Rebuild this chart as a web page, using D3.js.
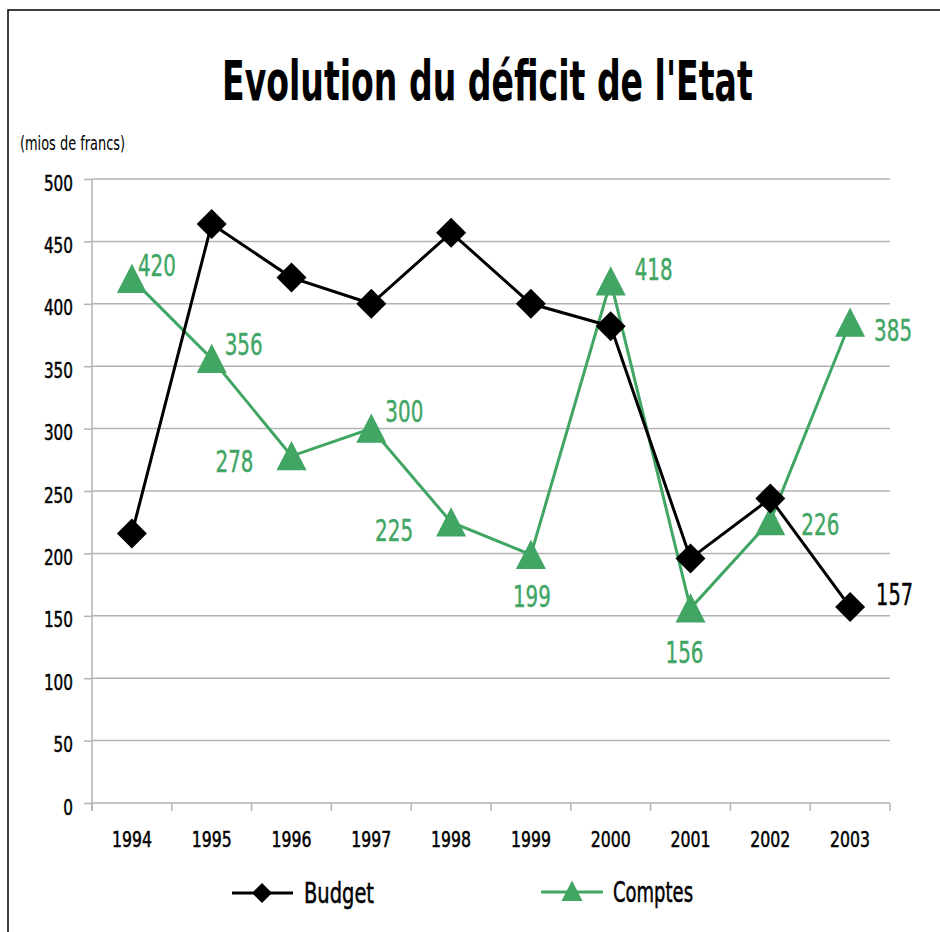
<!DOCTYPE html>
<html>
<head>
<meta charset="utf-8">
<script src="https://cdn.jsdelivr.net/npm/d3@7"></script>
<style>
  html, body { margin: 0; padding: 0; background: #fff; }
  svg { display: block; }
  text { font-family: "Liberation Sans Narrow", "DejaVu Sans", sans-serif; font-stretch: condensed; }
</style>
</head>
<body>
<svg id="chart" width="940" height="932"></svg>
<script>
// ---- data ----
const years = ["1994","1995","1996","1997","1998","1999","2000","2001","2002","2003"];
const budget = [216, 464, 421, 400, 457, 400, 382, 196, 244, 157];
const comptes = [420, 356, 278, 300, 225, 199, 418, 156, 226, 385];
const yTicks = [0, 50, 100, 150, 200, 250, 300, 350, 400, 450, 500];
const titleText = "Evolution du déficit de l'Etat";
const unitText = "(mios de francs)";
const seriesNames = ["Budget", "Comptes"];

// label placement (style config, not data)
const comptesLabelOffsets = [[6,-3],[13,-4],[-76,16],[14,-7],[-76,19],[-18,52],[24,-1],[-25,55],[31,14],[24,18]];
const budgetLabelIndex = 9;
const budgetLabelOffset = [26,-2];

const green = "#41a564";
const grid = "#b3b3b3";
const svg = d3.select("#chart");

// frame (extends beyond image on right and bottom)
svg.append("rect").attr("x", 8).attr("y", 10).attr("width", 1000).attr("height", 1000)
  .attr("fill", "none").attr("stroke", "#000").attr("stroke-width", 1.5);

// title: fit width naturally, then stretch vertically to the reference cap height
const title = svg.append("text").attr("x", 0).attr("y", 0)
  .attr("font-size", 56).attr("font-weight", "bold").text(titleText);
const natW = title.node().getComputedTextLength();
const tSize = 56 * 531 / natW;
title.attr("font-size", tSize)
  .attr("transform", `translate(222,100) scale(1,${56 / tSize})`);

svg.append("text").attr("x", 20).attr("y", 150)
  .attr("font-size", 19)
  .attr("textLength", 105).attr("lengthAdjust", "spacingAndGlyphs")
  .text(unitText);

const x = d3.scaleBand().domain(years).range([92, 890]).padding(0);
const y = d3.scaleLinear().domain([0, 500]).range([803, 179]);

// y ticks (labels + tick marks)
const yAxis = d3.axisLeft(y).tickValues(yTicks).tickSize(8).tickSizeOuter(0).tickPadding(11);
const gy = svg.append("g").attr("transform", "translate(92,0)").call(yAxis);
gy.attr("font-family", null).attr("font-size", null);
gy.select(".domain").remove();
gy.selectAll(".tick line").attr("stroke", grid).attr("stroke-width", 1.5);
gy.selectAll(".tick text").attr("font-size", 22).attr("fill", "#000").attr("dy", 11)
  .attr("stroke", "#000").attr("stroke-width", 0.5)
  .attr("textLength", d => String(d).length * 9.7).attr("lengthAdjust", "spacingAndGlyphs");

// horizontal grid
svg.append("g").selectAll("line").data(yTicks).join("line")
  .attr("x1", 92).attr("x2", 890)
  .attr("y1", d => y(d)).attr("y2", d => y(d))
  .attr("stroke", grid).attr("stroke-width", 1.5);

// y axis line
svg.append("line").attr("x1", 92).attr("x2", 92).attr("y1", 179).attr("y2", 811)
  .attr("stroke", grid).attr("stroke-width", 1.5);

// x axis ticks at band boundaries
const bounds = years.map(d => x(d)).concat([x(years[years.length-1]) + x.bandwidth()]);
svg.append("g").selectAll("line").data(bounds).join("line")
  .attr("x1", d => d).attr("x2", d => d).attr("y1", 803).attr("y2", 811)
  .attr("stroke", grid).attr("stroke-width", 1.5);

svg.append("g").selectAll("text").data(years).join("text")
  .attr("x", d => x(d) + x.bandwidth() / 2).attr("y", 847)
  .attr("text-anchor", "middle").attr("font-size", 22)
  .attr("stroke", "#000").attr("stroke-width", 0.5)
  .attr("textLength", 40).attr("lengthAdjust", "spacingAndGlyphs")
  .text(d => d);

const cx = i => x(years[i]) + x.bandwidth() / 2;
const line = d3.line().x((d, i) => cx(i)).y(d => y(d));

const triPath = s => `M0,${-s}L${s},${s*0.95}L${-s},${s*0.95}Z`;
const diaPath = s => `M0,${-s}L${s},0L0,${s}L${-s},0Z`;

// Comptes line
svg.append("path").datum(comptes).attr("d", line)
  .attr("fill", "none").attr("stroke", green).attr("stroke-width", 3);
// Budget line
svg.append("path").datum(budget).attr("d", line)
  .attr("fill", "none").attr("stroke", "#000").attr("stroke-width", 3);

svg.append("g").selectAll("path").data(comptes).join("path")
  .attr("transform", (d, i) => `translate(${cx(i)},${y(d)})`)
  .attr("d", triPath(15)).attr("fill", green);

svg.append("g").selectAll("path").data(budget).join("path")
  .attr("transform", (d, i) => `translate(${cx(i)},${y(d)})`)
  .attr("d", diaPath(15)).attr("fill", "#000");

// data labels
svg.append("g").selectAll("text").data(comptes).join("text")
  .attr("x", (d, i) => cx(i) + comptesLabelOffsets[i][0])
  .attr("y", (d, i) => y(d) + comptesLabelOffsets[i][1])
  .attr("font-size", 30).attr("fill", green)
  .attr("stroke", green).attr("stroke-width", 0.4)
  .attr("textLength", 38).attr("lengthAdjust", "spacingAndGlyphs")
  .text(d => d);

svg.append("text")
  .attr("x", cx(budgetLabelIndex) + budgetLabelOffset[0])
  .attr("y", y(budget[budgetLabelIndex]) + budgetLabelOffset[1])
  .attr("font-size", 30).attr("fill", "#000")
  .attr("stroke", "#000").attr("stroke-width", 0.4)
  .attr("textLength", 37).attr("lengthAdjust", "spacingAndGlyphs")
  .text(budget[budgetLabelIndex]);

// legend
const lg = svg.append("g");
lg.append("line").attr("x1", 232).attr("x2", 293).attr("y1", 893).attr("y2", 893)
  .attr("stroke", "#000").attr("stroke-width", 3);
lg.append("path").attr("transform", "translate(262,893)").attr("d", diaPath(10)).attr("fill", "#000");
lg.append("text").attr("x", 304).attr("y", 903).attr("font-size", 29)
  .attr("stroke", "#000").attr("stroke-width", 0.5)
  .attr("textLength", 70).attr("lengthAdjust", "spacingAndGlyphs").text(seriesNames[0]);

lg.append("line").attr("x1", 541).attr("x2", 603).attr("y1", 892).attr("y2", 892)
  .attr("stroke", green).attr("stroke-width", 3);
lg.append("path").attr("transform", "translate(572,891)").attr("d", triPath(10.5)).attr("fill", green);
lg.append("text").attr("x", 613).attr("y", 902).attr("font-size", 29)
  .attr("stroke", "#000").attr("stroke-width", 0.5)
  .attr("textLength", 80).attr("lengthAdjust", "spacingAndGlyphs").text(seriesNames[1]);
</script>
</body>
</html>
